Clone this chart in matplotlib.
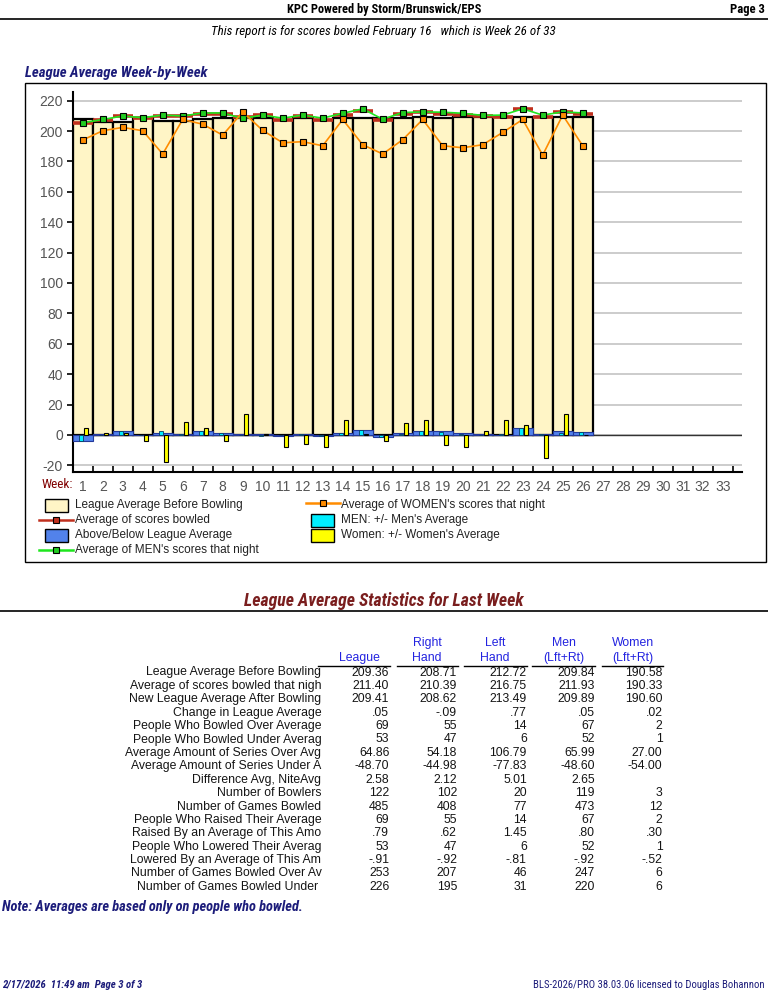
import matplotlib
matplotlib.use("Agg")
import matplotlib.pyplot as plt
import numpy as np
from matplotlib import font_manager
from matplotlib.patches import Rectangle
from matplotlib.lines import Line2D

# ---- data ----
weeks = np.arange(1, 27)
league_before = [207.8, 206.1, 206.1, 208.5, 206.8, 206.5, 207.8, 208.8, 208.5, 208.3,
                 207.4, 208.8, 207.4, 208.8, 208.9, 208.8, 208.9, 209.0, 208.6, 209.0,
                 209.0, 209.0, 209.1, 209.1, 209.2, 209.36]
avg_scores = [205.1, 207.0, 209.7, 208.3, 210.1, 210.0, 211.2, 211.2, 209.2, 210.6,
              207.4, 209.7, 207.2, 210.5, 213.5, 207.4, 211.2, 212.6, 211.2, 210.5,
              210.1, 209.2, 214.6, 209.2, 212.6, 211.40]
men_avg = [205.4, 207.6, 209.9, 208.8, 210.5, 209.9, 211.9, 211.9, 208.3, 210.5,
           208.5, 210.5, 208.5, 211.7, 214.6, 207.8, 212.2, 212.6, 212.4, 211.7,
           210.3, 210.5, 214.6, 210.5, 212.6, 211.93]
women_avg = [194.1, 200.2, 202.4, 200.2, 184.9, 207.6, 204.5, 197.3, 212.6, 200.4,
             192.3, 193.0, 190.3, 207.6, 191.0, 184.9, 194.3, 207.6, 190.3, 189.0,
             191.0, 199.1, 207.6, 184.2, 210.5, 190.33]
above_below = [-3.9, 0.5, 2.4, 0.2, 1.3, 0.4, 2.4, 1.3, 0.3, 0.4,
               -0.4, 0.4, -0.6, 1.3, 3.2, -1.2, 1.3, 2.4, 2.4, 1.3,
               0.3, 0.2, 4.7, 0.4, 2.4, 2.04]
men_diff = [-3.9, 0.2, 2.4, 0.1, 2.4, 0.3, 2.4, 1.3, 0.2, -0.6,
            -0.3, 0.3, -0.5, 1.3, 3.2, -1.1, 0.9, 2.4, 1.7, 0.9,
            0.2, 0.3, 4.3, 0.4, 1.3, 2.09]
women_diff = [4.5, 1.3, 1.3, -4.1, -17.6, 8.4, 4.5, -4.1, 13.5, 0.3,
              -8.0, -5.8, -8.0, 9.7, 0.4, -3.7, 7.7, 9.7, -6.5, -8.0,
              2.6, 9.7, 6.5, -15.5, 13.5, -0.25]
total_weeks = 33

legend_labels = ["League Average Before Bowling", "Average of scores bowled",
                 "Above/Below League Average", "Average of MEN's scores that night",
                 "Average of WOMEN's scores that night", "MEN: +/- Men's Average",
                 "Women: +/- Women's Average"]

col_headers = ["League", "Right\nHand", "Left\nHand", "Men\n(Lft+Rt)", "Women\n(Lft+Rt)"]
row_labels = ["League Average Before Bowling", "Average of scores bowled that nigh",
              "New League Average After Bowling", "Change in League Average",
              "People Who Bowled Over Average", "People Who Bowled Under Averag",
              "Average Amount of Series Over Avg", "Average Amount of Series Under A",
              "Difference Avg, NiteAvg", "Number of Bowlers", "Number of Games Bowled",
              "People Who Raised Their Average", "Raised By an Average of This Amo",
              "People Who Lowered Their Averag", "Lowered By an Average of This Am",
              "Number of Games Bowled Over Av", "Number of Games Bowled Under "]
col_league = ["209.36", "211.40", "209.41", ".05", "69", "53", "64.86", "-48.70", "2.58",
              "122", "485", "69", ".79", "53", "-.91", "253", "226"]
col_right = ["208.71", "210.39", "208.62", "-.09", "55", "47", "54.18", "-44.98", "2.12",
             "102", "408", "55", ".62", "47", "-.92", "207", "195"]
col_left = ["212.72", "216.75", "213.49", ".77", "14", "6", "106.79", "-77.83", "5.01",
            "20", "77", "14", "1.45", "6", "-.81", "46", "31"]
col_men = ["209.84", "211.93", "209.89", ".05", "67", "52", "65.99", "-48.60", "2.65",
           "119", "473", "67", ".80", "52", "-.92", "247", "220"]
col_women = ["190.58", "190.33", "190.60", ".02", "2", "1", "27.00", "-54.00", "",
             "3", "12", "2", ".30", "1", "-.52", "6", "6"]

# ---- fonts ----
plt.rcParams['axes.unicode_minus'] = False
ttf = font_manager.fontManager.ttflist
names = {f.name for f in ttf}
SANS = "Liberation Sans" if "Liberation Sans" in names else "DejaVu Sans"
plt.rcParams['font.family'] = SANS

# a narrow face for the report headings, if one is installed
narrow = {"family": SANS}
for cand in ("Liberation Sans Narrow", "Arial Narrow", "Roboto Condensed",
             "Open Sans Condensed", "DejaVu Sans Condensed"):
    if cand in names:
        narrow = {"family": cand}
        break
else:
    if any(f.name == "DejaVu Sans" and f.stretch == "condensed" for f in ttf):
        narrow = {"family": "DejaVu Sans", "stretch": "condensed"}

W, H = 768, 991
fig = plt.figure(figsize=(W / 100, H / 100), dpi=100)
renderer = fig.canvas.get_renderer()


def fx(x):
    return x / W


def fy(y):
    return 1 - y / H


def ftext(x, y, s, **kw):
    return fig.text(fx(x), fy(y), s, transform=fig.transFigure, **kw)


def fit_text(x, y, s, width, **kw):
    # shrink/grow the font so the string spans the width measured on the report
    t = ftext(x, y, s, **kw)
    w = t.get_window_extent(renderer).width
    t.set_fontsize(t.get_fontsize() * width / w)
    return t


navy = "#1c1c7a"
maroon = "#7a1e1e"

# ---- header ----
fit_text(384, 9, "KPC Powered by Storm/Brunswick/EPS", 193, ha="center", va="center",
         weight="bold", fontsize=10, **narrow)
fit_text(765, 9, "Page 3", 35, ha="right", va="center", weight="bold", fontsize=10, **narrow)
fig.add_artist(Line2D([0, 1], [fy(18.5), fy(18.5)], color="black", lw=1.2))
fit_text(383, 31, "This report is for scores bowled February 16   which is Week 26 of 33", 343,
         ha="center", va="center", style="italic", fontsize=9, **narrow)
fit_text(25, 73, "League Average Week-by-Week", 182, ha="left", va="center",
         weight="bold", style="italic", fontsize=10, color=navy, **narrow)

# panel border
fig.add_artist(Rectangle((fx(24.7), fy(562)), fx(766) - fx(24.7), fy(83.3) - fy(562),
                         transform=fig.transFigure, fill=False, ec="black", lw=1))

# ---- chart ----
ax_l, ax_r, ax_t, ax_b = 72.7, 742, 92.3, 471.7
ax = fig.add_axes([fx(ax_l), fy(ax_b), fx(ax_r) - fx(ax_l), fy(ax_t) - fy(ax_b)])
ax.set_xlim(0.5, 0.5 + (ax_r - ax_l) / 20)
ax.set_ylim(-24.2, 225.5)

cream = "#fff5c6"
blue = "#5282eb"
cyan = "#00eeff"
yellow = "#ffff00"
red = "#c0301e"
green = "#1ee61e"
orange = "#ff8c00"

ax.set_yticks(np.arange(-20, 221, 20))
ax.yaxis.grid(True, color="#c4c4c4", lw=1.2)
ax.set_axisbelow(True)
ax.axhline(0, color="#333333", lw=1.0, zorder=1)

ax.bar(weeks, league_before, width=1.0, color=cream, edgecolor="black", lw=1.6, zorder=2)
ax.bar(weeks, above_below, width=1.0, color=blue, edgecolor="#23389a", lw=0.8, zorder=3)
ax.bar(weeks - 0.1, men_diff, width=0.2, color=cyan, edgecolor="#0a3a60", lw=0.6, zorder=4)
ax.bar(weeks + 0.15, women_diff, width=0.2, color=yellow, edgecolor="black", lw=0.8, zorder=4)
ax.hlines(avg_scores, weeks - 0.5, weeks + 0.5, color=red, lw=2.6, zorder=5)
ax.plot(weeks, men_avg, color=green, lw=1.2, marker="s", ms=4, mfc="#22cc22",
        mec="black", mew=0.8, zorder=6)
ax.plot(weeks, women_avg, color=orange, lw=1.2, marker="s", ms=4, mfc=orange,
        mec="black", mew=0.8, zorder=7)

for side in ("top", "right"):
    ax.spines[side].set_visible(False)
for side in ("left", "bottom"):
    ax.spines[side].set_linewidth(1.5)
ax.tick_params(axis="y", direction="out", length=4, width=1.2, labelsize=10,
               labelcolor="#555555", pad=3)
ax.set_xticks(np.arange(1, total_weeks + 1))
ax.set_xticklabels([str(w) for w in range(1, total_weeks + 1)])
ax.set_xticks(np.arange(0.5, total_weeks + 1, 1.0), minor=True)
ax.tick_params(axis="x", which="major", length=0, labelsize=10, labelcolor="#555555", pad=6)
ax.tick_params(axis="x", which="minor", direction="in", length=4, width=1.2)
ftext(73, 484, "Week:", ha="right", va="center", fontsize=9.5, color="#800000", **narrow)

# ---- legend (drawn by hand, two columns like the report) ----
lg_fs = 8.5
rows_y = [505, 520, 535, 550]


def leg_patch(x0, x1, y, color, ec="black"):
    fig.add_artist(Rectangle((fx(x0), fy(y + 6.5)), fx(x1) - fx(x0), fy(y - 6.5) - fy(y + 6.5),
                             transform=fig.transFigure, fc=color, ec=ec, lw=1))


def leg_line(x0, x1, y, color, mfc):
    fig.add_artist(Line2D([fx(x0), fx(x1)], [fy(y), fy(y)], color=color, lw=1.8,
                          transform=fig.transFigure))
    fig.add_artist(Line2D([fx((x0 + x1) / 2)], [fy(y)], marker="s", ms=5, mfc=mfc,
                          mec="black", mew=0.8, transform=fig.transFigure))


leg_patch(44.9, 67.5, rows_y[0], cream)
leg_line(39, 72.8, rows_y[1], red, red)
leg_patch(44.9, 67.5, rows_y[2], blue)
leg_line(39, 72.8, rows_y[3], green, "#22cc22")
leg_line(306, 339.6, rows_y[0] - 2, orange, orange)
leg_patch(311, 334, rows_y[1], cyan)
leg_patch(311, 334, rows_y[2], yellow)
for i in range(4):
    ftext(74.7, rows_y[i], legend_labels[i], ha="left", va="center",
          fontsize=lg_fs, color="#222222")
for i in range(3):
    ftext(340.7, rows_y[i], legend_labels[4 + i], ha="left", va="center",
          fontsize=lg_fs, color="#222222")

# ---- statistics table ----
fit_text(384, 601, "League Average Statistics for Last Week", 281, ha="center", va="center",
         weight="bold", style="italic", fontsize=11.5, color=maroon, **narrow)
fig.add_artist(Line2D([0, 1], [fy(610.5), fy(610.5)], color="black", lw=1.2))

col_right_x = [389.3, 457.1, 526.8, 594.6, 662.5]
head_cx = [359, 427, 495, 564, 633]
under_x = [(318, 389.5), (396.5, 457.5), (463.5, 527), (532, 595), (601.5, 663)]
for cx, hdr, (u0, u1) in zip(head_cx, col_headers, under_x):
    lines = hdr.split("\n")
    if len(lines) == 1:
        ftext(cx, 658, lines[0], ha="center", va="center", fontsize=8.8, color="#2323e0")
    else:
        ftext(cx, 643, lines[0], ha="center", va="center", fontsize=8.8, color="#2323e0")
        ftext(cx, 658, lines[1], ha="center", va="center", fontsize=8.8, color="#2323e0")
    fig.add_artist(Line2D([fx(u0), fx(u1)], [fy(665.5), fy(665.5)], color="black", lw=1))

row_y0, row_dy = 672.5, 13.4
cols = [col_league, col_right, col_left, col_men, col_women]
for i, lab in enumerate(row_labels):
    y = row_y0 + i * row_dy
    ftext(321.4, y, lab, ha="right", va="center", fontsize=8.8, color="#141414")
    for xr, col in zip(col_right_x, cols):
        ftext(xr, y, col[i], ha="right", va="center", fontsize=8.8, color="#141414")

fit_text(2, 907, "Note: Averages are based only on people who bowled.", 301, ha="left",
         va="center", weight="bold", style="italic", fontsize=9, color=navy, **narrow)

# ---- footer ----
fit_text(2, 985, "2/17/2026  11:49 am  Page 3 of 3", 141, ha="left", va="center",
         weight="bold", style="italic", fontsize=7, color=navy, **narrow)
fit_text(765, 985, "BLS-2026/PRO 38.03.06 licensed to Douglas Bohannon", 230, ha="right",
         va="center", fontsize=7.5, color=navy, **narrow)

fig.savefig("out.png", dpi=100)
